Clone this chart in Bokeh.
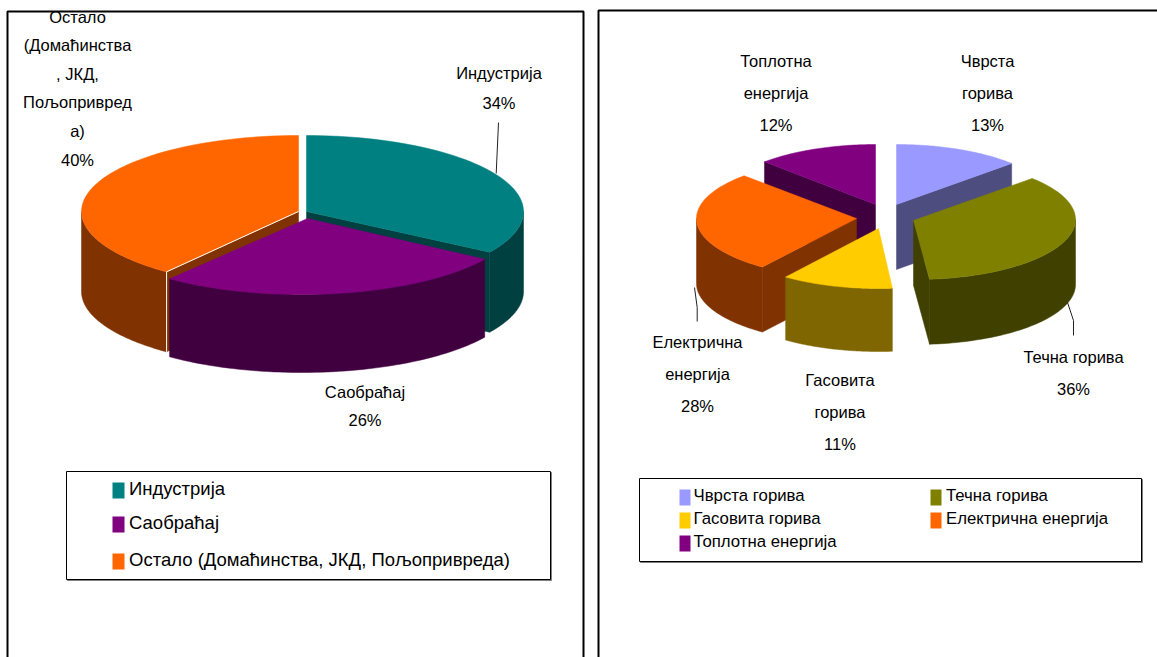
import math
from bokeh.plotting import figure
from bokeh.core.properties import value
from bokeh.embed import file_html
from bokeh.resources import INLINE

# ---- data ----
use_cats = ["Индустрија", "Саобраћај", "Остало (Домаћинства, ЈКД, Пољопривреда)"]
use_vals = [34, 26.4, 39.6]
use_top = ["#008080", "#800080", "#FF6600"]
use_side = ["#004040", "#400040", "#803300"]

fuel_cats = ["Чврста горива", "Течна горива", "Гасовита горива", "Електрична енергија", "Топлотна енергија"]
fuel_vals = [13, 35.6, 11.4, 27.6, 12.4]
fuel_top = ["#9999FF", "#808000", "#FFCC00", "#FF6600", "#800080"]
fuel_side = ["#4D4D80", "#404000", "#806600", "#803300", "#400040"]

FONT = value("Liberation Sans")
p = figure(width=1157, height=657, x_range=(0, 1157), y_range=(657, 0),
           output_backend="svg", toolbar_location=None, min_border=0,
           outline_line_color=None, background_fill_color="white")
p.axis.visible = False
p.grid.visible = False


def pct(v):
    return f"{round(v)}%"


def pt(c, r, ang, dy=0):
    a = math.radians(ang)
    return c[0] + r[0] * math.sin(a), c[1] - r[1] * math.cos(a) + dy


def arc(c, r, a0, a1, dy=0, n=60):
    pts = [pt(c, r, a0 + (a1 - a0) * i / n, dy) for i in range(n + 1)]
    return [q[0] for q in pts], [q[1] for q in pts]


def angles(vals):
    out, s = [], 0.0
    for v in vals:
        out.append((s, s + v * 3.6))
        s += v * 3.6
    return out


def top(c, r, a0, a1, col, apex=None):
    x, y = arc(c, r, a0, a1)
    ax, ay = apex or c
    p.patch([ax] + x, [ay] + y, fill_color=col, line_color=col, line_width=0.5)


def outer(c, r, a0, a1, d, col):
    lo, hi = max(a0, 90), min(a1, 270)
    if lo >= hi:
        return
    x, y = arc(c, r, lo, hi)
    x2, y2 = arc(c, r, hi, lo, d)
    p.patch(x + x2, y + y2, fill_color=col, line_color=col, line_width=0.5)


def face(c, r, ang, d, col, apex=None):
    ex, ey = pt(c, r, ang)
    ax, ay = apex or c
    p.patch([ax, ex, ex, ax], [ay, ey, ey + d, ay + d],
            fill_color=col, line_color=col, line_width=0.5)


def label(x, y, lines, step, size):
    p.text([x] * len(lines), [y + i * step for i in range(len(lines))], text=lines,
           text_font=FONT, text_font_size=size, text_align="center",
           text_baseline="middle", text_color="black")


# ---- left pie ----
ua = angles(use_vals)
R1 = (217, 76)
c_ind, c_tr, c_oth = (306, 211), (301, 218), (298, 211)
outer(c_oth, R1, *ua[2], 80, use_side[2])
face(c_oth, R1, ua[2][0], 80, use_side[2])
outer(c_ind, R1, *ua[0], 80, use_side[0])
face(c_ind, R1, ua[0][1], 80, use_side[0])
top(c_oth, R1, *ua[2], use_top[2])
top(c_ind, R1, *ua[0], use_top[0])
ox, oy = pt(c_oth, R1, ua[2][0])
p.line([c_oth[0], ox, ox], [c_oth[1], oy, oy + 80], line_color="white", line_width=1)
outer(c_tr, R1, *ua[1], 78, use_side[1])
top(c_tr, R1, *ua[1], use_top[1], apex=(307, 218))

p.line([498, 495.7], [122, 173], line_color="#222222", line_width=1)
label(77, 16, ["Остало", "(Домаћинства", ", ЈКД,", "Пољопривред", "а)", pct(use_vals[2])], 28.6, "16.5px")
label(498.5, 72, [use_cats[0], pct(use_vals[0])], 30, "16.5px")
label(364.5, 391, [use_cats[1], pct(use_vals[1])], 28.5, "16.5px")

# ---- right pie ----
fa = angles(fuel_vals)
R2, R2w = (158, 60), (160, 60)
c_sol, c_liq, c_gas, c_el, c_th = (896, 204), (915, 219), (878, 228), (856, 218), (875, 204)
D = 65
face(c_th, R2, fa[4][0], D, fuel_side[4])
top(c_th, R2, *fa[4], fuel_top[4])
face(c_sol, R2, fa[0][1], D, fuel_side[0])
top(c_sol, R2, *fa[0], fuel_top[0])
outer(c_el, R2w, *fa[3], D, fuel_side[3])
face(c_el, R2w, fa[3][0], D, fuel_side[3])
top(c_el, R2w, *fa[3], fuel_top[3])
outer(c_liq, R2w, *fa[1], D, fuel_side[1])
face(c_liq, R2w, fa[1][1], D, fuel_side[1], apex=(913, 220))
top(c_liq, R2w, *fa[1], fuel_top[1], apex=(913, 220))
outer(c_gas, R2, *fa[2], 63, fuel_side[2])
top(c_gas, R2, *fa[2], fuel_top[2])

p.line([1067, 1073, 1073], [302, 320, 335], line_color="#222222", line_width=1)
p.line([694, 696.7, 696.7], [287, 307, 321], line_color="#222222", line_width=1)
label(775.5, 60, ["Топлотна", "енергија", pct(fuel_vals[4])], 32, "16.5px")
label(987, 60, ["Чврста", "горива", pct(fuel_vals[0])], 32, "16.5px")
label(1073, 356, [fuel_cats[1], pct(fuel_vals[1])], 32, "16.5px")
label(839.5, 379, ["Гасовита", "горива", pct(fuel_vals[2])], 32, "16.5px")
label(697, 341, ["Електрична", "енергија", pct(fuel_vals[3])], 32, "16.5px")

# ---- top mask and panel frames ----
p.quad(left=[0], right=[1157], top=[0], bottom=[10], fill_color="white", line_color=None)
p.multi_line([[7, 7, 583, 583], [598, 598, 1157]], [[657, 11, 11, 657], [657, 10, 10]],
             line_color="black", line_width=2)


def legend_box(l, t, r, b):
    p.quad(left=[l + 1], right=[r + 1], top=[t + 1], bottom=[b + 1],
           fill_color="#808080", line_color="#808080")
    p.quad(left=[l], right=[r], top=[t], bottom=[b], fill_color="white", line_color="black")


def legend_entry(x, y0, y1, w, text, col, tx, size):
    p.quad(left=[x], right=[x + w], top=[y0], bottom=[y1], fill_color=col, line_color=None)
    p.text([tx], [(y0 + y1) / 2 - 2], text=[text], text_font=FONT, text_font_size=size,
           text_baseline="middle", text_color="black")


legend_box(66, 471, 550, 579)
for cat, col, y0 in zip(use_cats, use_top, [482, 516, 553]):
    legend_entry(112, y0, y0 + 16, 12, cat, col, 128.5, "18.5px")

legend_box(639, 478, 1141, 561)
pos = [(679, 489, 693), (930, 489, 945.5), (679, 512, 693), (930, 512, 945.5), (679, 535, 693)]
for cat, col, (x, y0, tx) in zip(fuel_cats, fuel_top, pos):
    legend_entry(x, y0, y0 + 16, 11, cat, col, tx, "16.8px")

open("out.html", "w").write(file_html(p, INLINE))
